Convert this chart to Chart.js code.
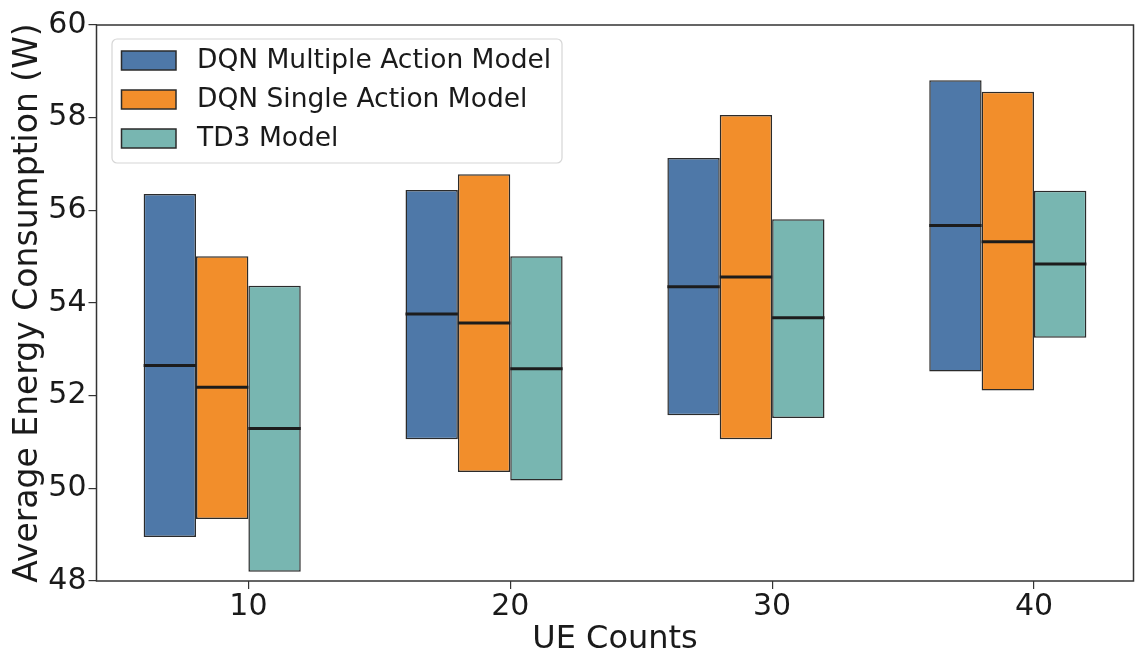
<!DOCTYPE html>
<html>
<head>
<meta charset="utf-8">
<script src="https://cdn.jsdelivr.net/npm/chart.js@4.4.1/dist/chart.umd.min.js"></script>
<style>
  html, body { margin: 0; padding: 0; background: #fff; }
  #wrap { width: 1148px; height: 670px; }
</style>
</head>
<body>
<div id="wrap"><canvas id="myChart" width="1148" height="670"></canvas></div>
<script>
// UE counts on the x axis
var ueCounts = [10, 20, 30, 40];
var seriesNames = ["DQN Multiple Action Model", "DQN Single Action Model", "TD3 Model"];

// low / median / high energy consumption (W) per model
var dqnMultiLow  = [48.95, 51.06, 51.58, 52.52];
var dqnMultiMed  = [52.65, 53.76, 54.35, 55.67];
var dqnMultiHigh = [56.35, 56.44, 57.13, 58.81];

var dqnSingleLow  = [49.34, 50.35, 51.06, 52.11];
var dqnSingleMed  = [52.18, 53.57, 54.56, 55.32];
var dqnSingleHigh = [55.01, 56.78, 58.06, 58.56];

var td3Low  = [48.20, 50.17, 51.52, 53.25];
var td3Med  = [51.29, 52.58, 53.68, 54.84];
var td3High = [54.37, 55.01, 55.81, 56.42];

var yTicks = [48, 50, 52, 54, 56, 58, 60];

var barColors = ["#4e78a8", "#f28e2b", "#78b6b1"];

function ranges(lo, hi) {
    return ueCounts.map(function (u, i) { return { x: u, y: [lo[i], hi[i]] }; });
}

var medians = [dqnMultiMed, dqnSingleMed, td3Med];

var FONT = "'DejaVu Sans', sans-serif";

// median lines across each bar
var medianPlugin = {
    id: "medianLines",
    afterDatasetsDraw: function (chart) {
        var ctx = chart.ctx;
        var y = chart.scales.y;
        ctx.save();
        ctx.strokeStyle = "#1c1c1c";
        ctx.lineWidth = 3;
        medians.forEach(function (med, di) {
            var meta = chart.getDatasetMeta(di);
            meta.data.forEach(function (bar, i) {
                var py = y.getPixelForValue(med[i]);
                ctx.beginPath();
                ctx.moveTo(bar.x - bar.width / 2, py);
                ctx.lineTo(bar.x + bar.width / 2, py);
                ctx.stroke();
            });
        });
        ctx.restore();
    }
};

// frame around the plot + legend box in the upper left
var framePlugin = {
    id: "frameLegend",
    afterDraw: function (chart) {
        var ctx = chart.ctx;
        var a = chart.chartArea;
        ctx.save();
        ctx.strokeStyle = "#333";
        ctx.lineWidth = 1.5;
        ctx.strokeRect(a.left, a.top, a.right - a.left, a.bottom - a.top);

        // legend
        var lx = a.left + 15.5, ly = a.top + 14, lw = 450, lh = 124;
        ctx.fillStyle = "rgba(255,255,255,0.8)";
        ctx.strokeStyle = "#d6d6d6";
        ctx.lineWidth = 1.2;
        ctx.beginPath();
        ctx.roundRect(lx, ly, lw, lh, 5);
        ctx.fill();
        ctx.stroke();

        ctx.font = "26.5px " + FONT;
        ctx.textBaseline = "middle";
        seriesNames.forEach(function (name, i) {
            var cy = ly + 21.5 + i * 39;
            ctx.fillStyle = barColors[i];
            ctx.fillRect(lx + 9.5, cy - 9.5, 54.5, 19);
            ctx.strokeStyle = "#2b2b2b";
            ctx.lineWidth = 1.5;
            ctx.strokeRect(lx + 9.5, cy - 9.5, 54.5, 19);
            ctx.fillStyle = "#1a1a1a";
            ctx.fillText(name, lx + 85, cy + 1);
        });
        ctx.restore();
    }
};

new Chart("myChart", {
    type: "bar",
    data: {
        datasets: [
            { label: seriesNames[0], data: ranges(dqnMultiLow, dqnMultiHigh), backgroundColor: barColors[0] },
            { label: seriesNames[1], data: ranges(dqnSingleLow, dqnSingleHigh), backgroundColor: barColors[1] },
            { label: seriesNames[2], data: ranges(td3Low, td3High), backgroundColor: barColors[2] },
            // empty fourth slot, so the tick sits at the teal bar's left edge
            { label: "", data: ueCounts.map(function (u) { return { x: u, y: null }; }), backgroundColor: "rgba(0,0,0,0)", borderWidth: 0 }
        ]
    },
    options: {
        responsive: false,
        animation: false,
        devicePixelRatio: 1,
        layout: { padding: { left: 5, right: 14.5, top: 25, bottom: 7 } },
        datasets: {
            bar: {
                borderColor: "#2b2b2b",
                borderWidth: 1.5,
                borderSkipped: false,
                categoryPercentage: 0.8,
                barPercentage: 1.0
            }
        },
        plugins: {
            legend: { display: false },
            tooltip: { enabled: false }
        },
        scales: {
            x: {
                type: "linear",
                min: 4.2,
                max: 43.8,
                offset: false,
                afterBuildTicks: function (s) { s.ticks = ueCounts.map(function (v) { return { value: v }; }); },
                grid: { display: true, offset: false, drawOnChartArea: false, drawTicks: true, tickLength: 8, color: "#333", lineWidth: 1.2 },
                border: { display: false },
                ticks: { color: "#1a1a1a", font: { family: FONT, size: 30 }, padding: 0 },
                title: { display: true, text: "UE Counts", color: "#1a1a1a", font: { family: FONT, size: 32 } },
                afterFit: function (s) { s.height = 82; }
            },
            y: {
                min: 48,
                max: 60,
                afterBuildTicks: function (s) { s.ticks = yTicks.map(function (v) { return { value: v }; }); },
                grid: { display: true, drawOnChartArea: false, drawTicks: true, tickLength: 8, color: "#333", lineWidth: 1.2 },
                border: { display: false },
                ticks: { color: "#1a1a1a", font: { family: FONT, size: 30 }, padding: 2 },
                title: { display: true, text: "Average Energy Consumption (W)", color: "#1a1a1a", font: { family: FONT, size: 33 } },
                afterFit: function (s) { s.width = 91.5; }
            }
        }
    },
    plugins: [medianPlugin, framePlugin]
});
</script>
</body>
</html>
